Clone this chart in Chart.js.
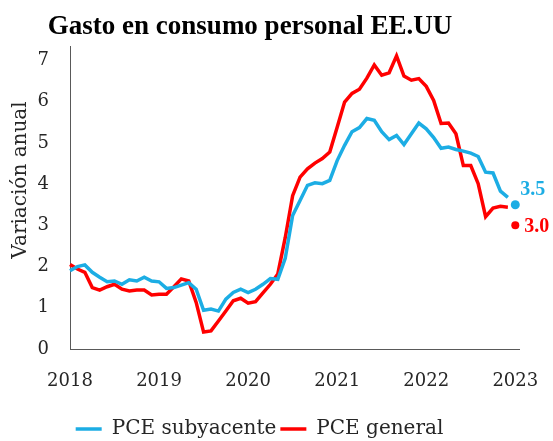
<!DOCTYPE html>
<html>
<head>
<meta charset="utf-8">
<script src="https://cdn.jsdelivr.net/npm/chart.js@4.4.0/dist/chart.umd.min.js"></script>
<style>
  html, body { margin: 0; padding: 0; background: #fff; }
  #wrap { width: 553px; height: 441px; }
</style>
</head>
<body>
<div id="wrap"><canvas id="pceChart" width="553" height="441"></canvas></div>
<script>
const chartTitle = 'Gasto en consumo personal EE.UU';
const yAxisTitle = 'Variación anual';
const yearLabels = ['2018', '2019', '2020', '2021', '2022', '2023'];
const yTicks = [0, 1, 2, 3, 4, 5, 6, 7];
const seriesNames = ['PCE subyacente', 'PCE general'];

// variación anual mensual, desde ene-2018
const pceSubyacente = [
    1.90, 2.00, 2.04, 1.86, 1.74, 1.63, 1.65, 1.57, 1.68, 1.65, 1.74, 1.65,
    1.63, 1.47, 1.49, 1.55, 1.61, 1.45, 0.94, 0.97, 0.92, 1.21, 1.37, 1.45,
    1.37, 1.45, 1.57, 1.71, 1.69, 2.20, 3.24, 3.60, 3.97, 4.03, 4.01, 4.09,
    4.57, 4.94, 5.27, 5.37, 5.59, 5.55, 5.27, 5.08, 5.18, 4.96, 5.22, 5.48,
    5.34, 5.13, 4.87, 4.90, 4.84, 4.80, 4.75, 4.67, 4.29, 4.27, 3.83, 3.68
];
const pceGeneral = [
    2.05, 1.94, 1.86, 1.49, 1.43, 1.51, 1.57, 1.45, 1.41, 1.43, 1.43, 1.31,
    1.33, 1.33, 1.51, 1.70, 1.65, 1.13, 0.41, 0.44, 0.68, 0.92, 1.17, 1.23,
    1.11, 1.15, 1.36, 1.57, 1.82, 2.70, 3.72, 4.17, 4.37, 4.51, 4.62, 4.78,
    5.38, 5.99, 6.20, 6.30, 6.57, 6.89, 6.64, 6.70, 7.11, 6.62, 6.52, 6.56,
    6.37, 6.03, 5.47, 5.48, 5.22, 4.45, 4.45, 4.01, 3.21, 3.42, 3.46, 3.44
];

// último dato, marcado aparte con un punto
const lastSubyacente = 3.5;
const lastGeneral = 3.0;

const BLUE = '#1cade4';
const RED = '#ff0000';
const TEXT = '#262626';
const AXIS = '#595959';
const SERIF = '"Liberation Serif", serif';
const SERIF_WIDE = '"DejaVu Serif", serif';

const toPoints = arr => arr.map((v, i) => ({ x: i, y: v }));

/* Plugins */

// title + rotated y title, drawn by hand so they sit where the original has them
const titles = {
    id: 'titles',
    afterDraw(chart) {
        const ctx = chart.ctx;
        ctx.save();
        ctx.font = 'bold 27px ' + SERIF;
        ctx.fillStyle = '#000';
        ctx.textAlign = 'center';
        ctx.textBaseline = 'middle';
        ctx.fillText(chartTitle, 250, 27);

        ctx.translate(21, 180);
        ctx.rotate(-Math.PI / 2);
        ctx.font = '20px ' + SERIF_WIDE;
        ctx.fillStyle = TEXT;
        ctx.fillText(yAxisTitle, 0, 0);
        ctx.restore();
    }
};

const endLabels = {
    id: 'endLabels',
    afterDatasetsDraw(chart) {
        const ctx = chart.ctx;
        chart.data.datasets.forEach((ds, i) => {
            if (ds.endLabel === undefined) return;
            const pt = chart.getDatasetMeta(i).data[0];
            ctx.save();
            ctx.font = 'bold 20px ' + SERIF;
            ctx.fillStyle = ds.backgroundColor;
            ctx.textBaseline = 'middle';
            ctx.fillText(ds.endLabel.toFixed(1), pt.x + ds.labelDx, pt.y + ds.labelDy);
            ctx.restore();
        });
    }
};

new Chart(document.getElementById('pceChart'), {
    type: 'line',
    data: {
        datasets: [
            {
                label: seriesNames[0],
                data: toPoints(pceSubyacente),
                borderColor: BLUE,
                backgroundColor: BLUE,
                borderWidth: 3.5,
                pointRadius: 0,
                tension: 0,
                clip: false
            },
            {
                label: seriesNames[1],
                data: toPoints(pceGeneral),
                borderColor: RED,
                backgroundColor: RED,
                borderWidth: 3.5,
                pointRadius: 0,
                tension: 0,
                clip: false
            },
            {
                label: 'last1',
                data: [{ x: pceSubyacente.length, y: lastSubyacente }],
                showLine: false,
                pointRadius: 4.5,
                pointBorderWidth: 0,
                backgroundColor: BLUE,
                borderColor: BLUE,
                endLabel: lastSubyacente,
                labelDx: 5,
                labelDy: -15,
                clip: false
            },
            {
                label: 'last2',
                data: [{ x: pceGeneral.length, y: lastGeneral }],
                showLine: false,
                pointRadius: 4,
                pointBorderWidth: 0,
                backgroundColor: RED,
                borderColor: RED,
                endLabel: lastGeneral,
                labelDx: 9,
                labelDy: 2,
                clip: false
            }
        ]
    },
    options: {
        responsive: false,
        animation: false,
        devicePixelRatio: 1,
        layout: { padding: { top: 46, right: 34, bottom: -8, left: 0 } },
        plugins: {
            legend: {
                position: 'bottom',
                labels: {
                    filter: item => item.datasetIndex < 2,
                    usePointStyle: true,
                    pointStyle: 'line',
                    pointStyleWidth: 26,
                    font: { family: SERIF_WIDE, size: 20 },
                    color: TEXT,
                    padding: 4
                }
            },
            tooltip: { enabled: false }
        },
        scales: {
            x: {
                type: 'linear',
                min: 0,
                max: 60.5,
                grid: { display: false, drawTicks: false },
                border: { display: true, color: AXIS, width: 1 },
                afterBuildTicks: scale => {
                    scale.ticks = yearLabels.map((_, i) => ({ value: i * 12 }));
                },
                afterFit: scale => {
                    scale.height = 66;
                    // labels may hang past the plot edges, like the original
                    scale.paddingLeft = 0;
                    scale.paddingRight = 0;
                },
                ticks: {
                    autoSkip: false,
                    maxRotation: 0,
                    callback: v => yearLabels[Math.round(v / 12)],
                    font: { family: SERIF_WIDE, size: 18 },
                    color: TEXT,
                    padding: 22
                }
            },
            y: {
                min: 0,
                max: 7.35,
                grid: { display: false, drawTicks: false },
                border: { display: true, color: AXIS, width: 1 },
                afterBuildTicks: scale => {
                    scale.ticks = yTicks.map(v => ({ value: v }));
                },
                afterFit: scale => { scale.width = 70; },
                ticks: {
                    font: { family: SERIF_WIDE, size: 18 },
                    color: TEXT,
                    padding: 21
                }
            }
        }
    },
    plugins: [titles, endLabels]
});
</script>
</body>
</html>
